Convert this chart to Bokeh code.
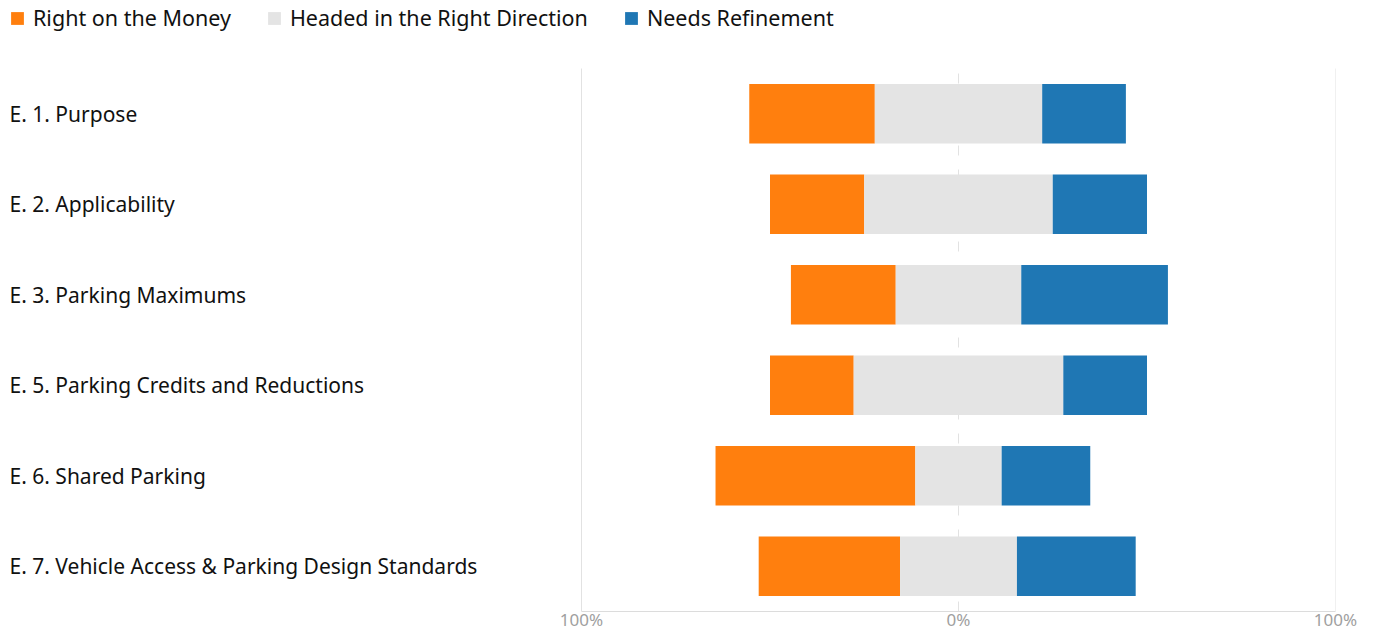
from bokeh.plotting import figure
from bokeh.models import ColumnDataSource, Range1d, FixedTicker, Legend, LegendItem
from bokeh.core.properties import value
from bokeh.embed import file_html
from bokeh.resources import INLINE
import numpy as np

categories = [
    "E. 1. Purpose",
    "E. 2. Applicability",
    "E. 3. Parking Maximums",
    "E. 5. Parking Credits and Reductions",
    "E. 6. Shared Parking",
    "E. 7. Vehicle Access & Parking Design Standards",
]
series_names = ["Right on the Money", "Headed in the Right Direction", "Needs Refinement"]
right_on_money = [33.3, 25.0, 27.8, 22.2, 53.0, 37.5]
headed_right = [44.4, 50.0, 33.3, 55.6, 22.9, 31.0]
needs_refinement = [22.2, 25.0, 38.9, 22.2, 23.5, 31.5]
tick_values = [-100, 0, 100]
tick_labels = ["100%", "0%", "100%"]
colors = ["#ff7f0e", "#e4e4e4", "#1f77b4"]

FONT = "Noto Sans"

# layout (pixels)
W, H = 1360, 634
frame_w = 1335
rows_top = 68        # pixel where the category rows start
frame_h = 611        # frame from top of canvas down to the x axis
left_px = 581        # pixel position of -100 within frame
scale = (frame_w - left_px) / 200.0
x_start = -100 - left_px / scale

n = len(categories)
band = (frame_h - rows_top) / n
ypos = np.arange(n)[::-1].astype(float)   # first category on top
y_lo, y_hi = -0.5, n - 0.5

o = np.array(right_on_money)
g = np.array(headed_right)
b = np.array(needs_refinement)
src = ColumnDataSource(dict(
    y=ypos, cat=categories,
    o_left=-(g / 2 + o), o_right=-g / 2,
    g_left=-g / 2, g_right=g / 2,
    b_left=g / 2, b_right=g / 2 + b,
))

p = figure(width=W, height=H, output_backend="svg", toolbar_location=None,
           x_range=Range1d(x_start, 100),
           y_range=Range1d(y_lo, y_hi + rows_top / band),
           y_axis_location=None,
           min_border_left=0, min_border_right=W - frame_w, min_border_top=0,
           min_border_bottom=H - frame_h)
p.outline_line_color = None
p.background_fill_color = "white"
p.xgrid.visible = False
p.ygrid.visible = False

# grid lines limited to the rows region
edge_ticks = [tick_values[0], tick_values[-1]]
p.segment(x0=edge_ticks, x1=edge_ticks, y0=[y_lo] * 2, y1=[y_hi] * 2,
          line_color="#e2e2e2", line_width=1)
p.segment(x0=[tick_values[1]], x1=[tick_values[1]], y0=[y_lo], y1=[y_hi],
          line_color="#e2e2e2", line_width=1, line_dash="10 14")

r1 = p.hbar(y="y", left="o_left", right="o_right", height=0.66, source=src,
            fill_color=colors[0], line_color=None)
r2 = p.hbar(y="y", left="g_left", right="g_right", height=0.66, source=src,
            fill_color=colors[1], line_color=None)
r3 = p.hbar(y="y", left="b_left", right="b_right", height=0.66, source=src,
            fill_color=colors[2], line_color=None)

p.text(x=x_start, y="y", text="cat", source=src, x_offset=9,
       text_align="left", text_baseline="middle",
       text_font=value(FONT), text_font_size="21px", text_color="#111111")

ax = p.xaxis[0]
ax.ticker = FixedTicker(ticks=tick_values)
ax.major_label_overrides = {t: l for t, l in zip(tick_values, tick_labels)}
ax.bounds = (tick_values[0], tick_values[-1])
ax.axis_line_color = "#dcdcdc"
ax.major_tick_line_color = None
ax.minor_tick_line_color = None
ax.major_tick_out = 0
ax.major_tick_in = 0
ax.minor_tick_out = 0
ax.major_label_text_color = "#a0a0a0"
ax.major_label_text_font = FONT
ax.major_label_text_font_size = "17px"
ax.major_label_standoff = -4

legend = Legend(items=[LegendItem(label=series_names[0], renderers=[r1]),
                       LegendItem(label=series_names[1], renderers=[r2]),
                       LegendItem(label=series_names[2], renderers=[r3])],
                orientation="horizontal", location=(9, frame_h - 4 - 28),
                glyph_width=16, glyph_height=16, label_standoff=8, spacing=35,
                padding=0, margin=0, border_line_color=None,
                background_fill_alpha=0, label_text_font=FONT,
                label_text_font_size="21.5px", label_text_color="#111111")
p.add_layout(legend, "center")

open("out.html", "w").write(file_html(p, INLINE))
